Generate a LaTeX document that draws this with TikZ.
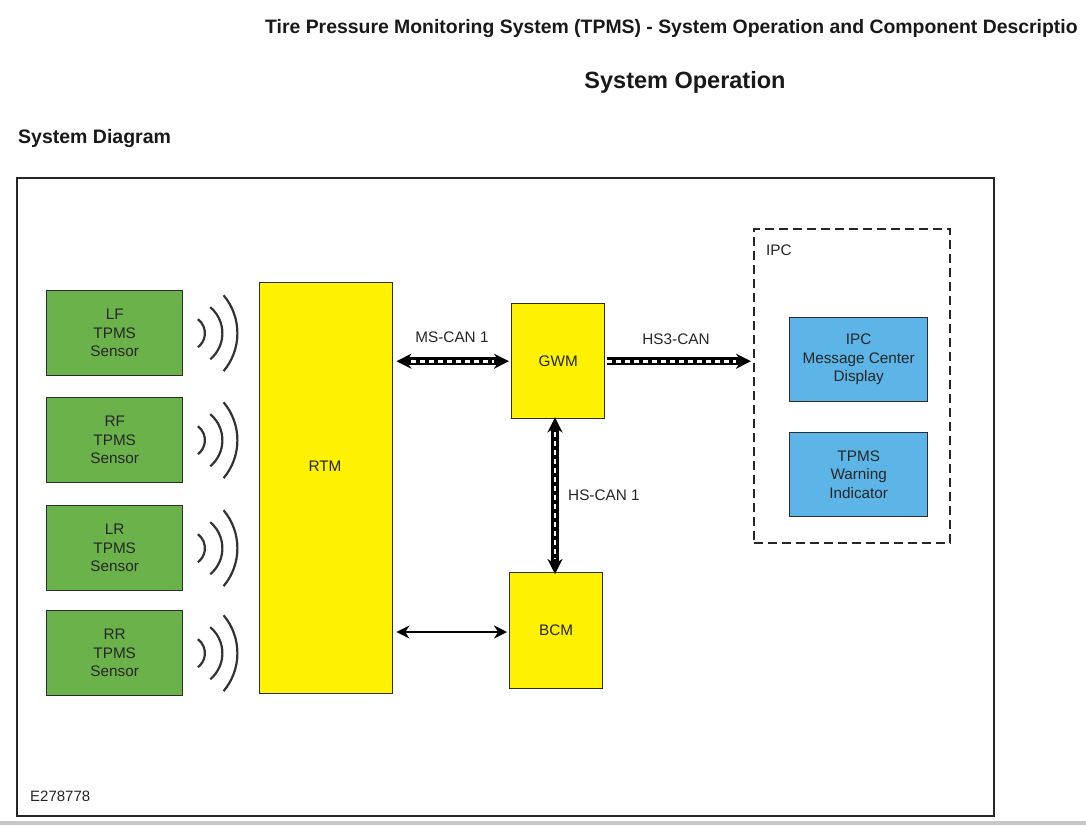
\documentclass[tikz,border=0pt]{standalone}
\usepackage{fontspec}
\setmainfont{Liberation Sans}
\usetikzlibrary{arrows.meta}
\definecolor{sgreen}{RGB}{108,178,74}
\definecolor{syellow}{RGB}{255,242,0}
\definecolor{sblue}{RGB}{92,181,230}
\definecolor{sborder}{RGB}{45,45,45}
\tikzset{
  box/.style={draw=sborder, line width=1.4pt, anchor=north west, inner sep=0pt, align=center, font=\fontsize{15.3}{18.5}\selectfont, text=black!85},
  sensor/.style={box, fill=sgreen, minimum width=136pt, minimum height=85pt},
  ybox/.style={box, fill=syellow},
  bbox/.style={box, fill=sblue, minimum width=138pt, minimum height=84pt},
  wave/.style={draw=black!80, line width=2.2pt},
  canbody/.style={line width=7.5pt, black, {Stealth[length=15pt,width=15pt]}-{Stealth[length=15pt,width=15pt]}},
  canbodyone/.style={line width=7.5pt, black, -{Stealth[length=15pt,width=15pt]}},
  candash/.style={line width=2.8pt, white, dash pattern=on 5pt off 4pt, shorten <=15pt, shorten >=15pt},
  candashone/.style={line width=2.8pt, white, dash pattern=on 5pt off 4pt, shorten >=15pt},
  plainarrow/.style={line width=2.4pt, black, {Stealth[length=13pt,width=13pt]}-{Stealth[length=13pt,width=13pt]}},
  lbl/.style={font=\fontsize{15.3}{17}\selectfont, text=black!85, inner sep=0pt},
}
\begin{document}
\begin{tikzpicture}[x=1pt,y=-1pt]
\useasboundingbox (0,0) rectangle (1086,825);
\clip (0,0) rectangle (1086,825);
\fill[white] (0,0) rectangle (1086,825);
\fill[black!22] (0,821) rectangle (1086,825);
% headings
\node[anchor=west, inner sep=0pt, font=\fontsize{19.4}{22}\selectfont\bfseries, text=black!90] (title) at (265,29) {Tire Pressure Monitoring System (TPMS) - System Operation and Component Descriptio};
\node[inner sep=0pt, font=\fontsize{23.5}{27}\selectfont\bfseries, text=black!90] (sysop) at (685,82) {System Operation};
\node[anchor=west, inner sep=0pt, font=\fontsize{19.5}{23}\selectfont\bfseries, text=black!90] (sysdiag) at (18,138) {System Diagram};
% frame
\node[draw=black!85, line width=1.6pt, anchor=north west, inner sep=0pt, minimum width=977pt, minimum height=638pt] (frame) at (16,177) {};
% sensors
\node[sensor] (LF) at (46,290) {LF\\TPMS\\Sensor};
\node[sensor] (RF) at (46,397) {RF\\TPMS\\Sensor};
\node[sensor] (LR) at (46,505) {LR\\TPMS\\Sensor};
\node[sensor] (RR) at (46,610) {RR\\TPMS\\Sensor};
% waves
\foreach \s in {LF,RF,LR,RR}{
  \draw[wave] ([shift={(\s.east)}]4,0) ++(-53:17.5) arc[start angle=-53, end angle=53, radius=17.5];
  \draw[wave] ([shift={(\s.east)}]5,0) ++(-50:34) arc[start angle=-50, end angle=50, radius=34];
  \draw[wave] ([shift={(\s.east)}]-5,0) ++(-40:59) arc[start angle=-40, end angle=40, radius=59];
}
% yellow modules
\node[ybox, minimum width=133pt, minimum height=411pt] (RTM) at (259,282) {};
\node[lbl] (rtmlbl) at (325,466) {RTM};
\node[ybox, minimum width=93pt, minimum height=115pt] (GWM) at (511,303) {GWM};
\node[ybox, minimum width=93pt, minimum height=116pt] (BCM) at (509,572) {BCM};
% IPC
\node[draw=black!85, line width=1.6pt, dash pattern=on 9pt off 5pt, anchor=north west, inner sep=0pt, minimum width=196pt, minimum height=314pt] (IPC) at (753,228) {};
\node[lbl, anchor=west] (ipclbl) at (766,250) {IPC};
\node[bbox] (MCD) at (789,317) {IPC\\Message Center\\Display};
\node[bbox] (TWI) at (789,432) {TPMS\\Warning\\Indicator};
% connectors
\coordinate (msA) at ([xshift=3pt]RTM.east |- GWM.west);
\coordinate (msB) at ([xshift=-2pt]GWM.west);
\draw[canbody] (msA) -- (msB);
\draw[candash] (msA) -- (msB);
\node[lbl] (mslbl) at (452,337) {MS-CAN 1};
\coordinate (hs3A) at ([xshift=2pt]GWM.east);
\coordinate (hs3B) at ([xshift=-2pt]IPC.west |- GWM.east);
\draw[canbodyone] (hs3A) -- (hs3B);
\draw[candashone] (hs3A) -- (hs3B);
\node[lbl] (hs3lbl) at (676,339) {HS3-CAN};
\coordinate (hsA) at ([yshift=2pt]GWM.south -| 555,0);
\coordinate (hsB) at ([yshift=-2pt]BCM.north -| 555,0);
\draw[canbody] (hsA) -- (hsB);
\draw[candash] (hsA) -- (hsB);
\node[lbl, anchor=west] (hslbl) at (568,495) {HS-CAN 1};
\coordinate (bcA) at ([xshift=3pt]RTM.east |- 0,632);
\coordinate (bcB) at ([xshift=-2pt]BCM.west |- 0,632);
\draw[plainarrow] (bcA) -- (bcB);
\node[lbl, anchor=west, font=\fontsize{15}{17}\selectfont] (code) at (30,796) {E278778};
\end{tikzpicture}
\end{document}
